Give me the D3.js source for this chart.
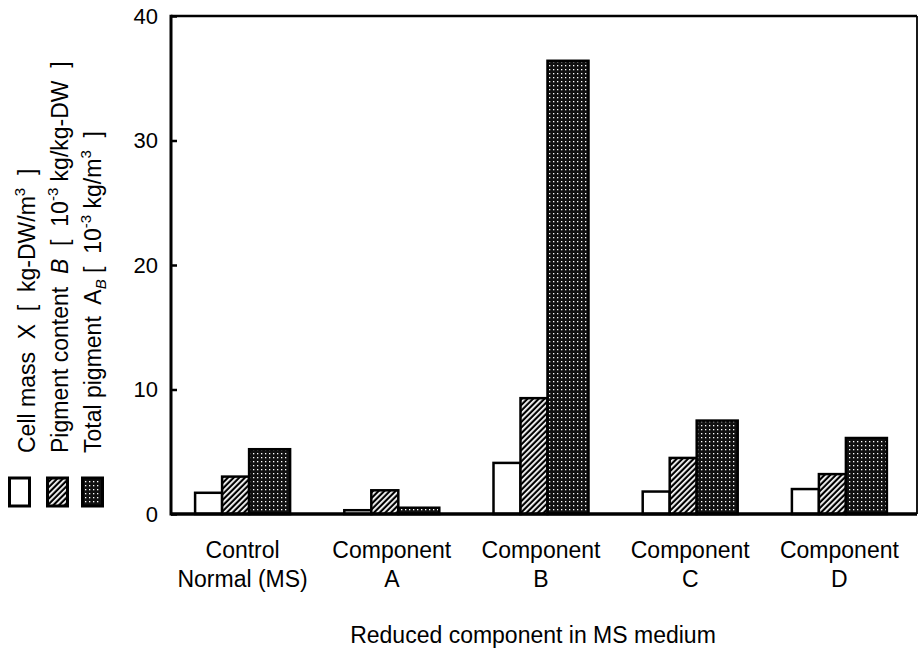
<!DOCTYPE html>
<html>
<head>
<meta charset="utf-8">
<script src="https://cdn.jsdelivr.net/npm/d3@7"></script>
<style>
  body { margin: 0; background: #fff; }
  text { font-family: "Liberation Sans", Arial, sans-serif; fill: #000; }
</style>
</head>
<body>
<div id="main_container"></div>
<script>

var
  WIDTH = 918,
  HEIGHT = 652;

// -- DATA
var categoryLine1 = ["Control", "Component", "Component", "Component", "Component"];
var categoryLine2 = ["Normal (MS)", "A", "B", "C", "D"];
var cellMass = [1.8, 0.4, 4.2, 1.9, 2.1];          // X [kg-DW/m3]
var pigmentContent = [3.1, 2.0, 9.4, 4.6, 3.3];    // B [10^-3 kg/kg-DW]
var totalPigment = [5.3, 0.6, 36.5, 7.6, 6.2];     // A_B [10^-3 kg/m3]
var yTicks = [0, 10, 20, 30, 40];
var xTitle = "Reduced component in MS medium";

var seriesList = [cellMass, pigmentContent, totalPigment];
var seriesFill = ["#fff", "url(#hatch)", "url(#dots)"];
var seriesWidth = [27, 27, 41];

var margin = {left: 171, right: 1, top: 16, bottom: 138};

var svg = d3.select("#main_container")
  .append("svg")
  .attr("width", WIDTH)
  .attr("height", HEIGHT)
  .style("display", "block");

svg.append("rect").attr("width", WIDTH).attr("height", HEIGHT).attr("fill", "#fff");

// -- PATTERNS
var defs = svg.append("defs");

var hatch = defs.append("pattern")
  .attr("id", "hatch")
  .attr("patternUnits", "userSpaceOnUse")
  .attr("width", 4)
  .attr("height", 4)
  .attr("patternTransform", "rotate(45)");
hatch.append("rect").attr("width", 4).attr("height", 4).attr("fill", "#000");
hatch.append("rect").attr("x", 0).attr("width", 1.8).attr("height", 4).attr("fill", "#fff");

var dots = defs.append("pattern")
  .attr("id", "dots")
  .attr("patternUnits", "userSpaceOnUse")
  .attr("width", 4)
  .attr("height", 4);
dots.append("rect").attr("width", 4).attr("height", 4).attr("fill", "#111");
dots.append("rect").attr("x", 1).attr("y", 1).attr("width", 1.3).attr("height", 1.3).attr("fill", "#fff");

// -- SCALES
var x0 = margin.left, x1 = WIDTH - margin.right;
var y0 = HEIGHT - margin.bottom, y1 = margin.top;

var x = d3.scaleBand()
  .domain(d3.range(categoryLine1.length))
  .range([x0 - 3, x1 - 3])
  .padding(0);

var y = d3.scaleLinear()
  .domain([0, 40])
  .range([y0, y1]);

// -- BARS
var groupWidth = d3.sum(seriesWidth);

seriesList.forEach(function(values, s) {
  var offset = d3.sum(seriesWidth.slice(0, s)) - groupWidth / 2;
  svg.append("g")
    .selectAll("rect")
    .data(values)
    .enter()
    .append("rect")
    .attr("x", function(d, i) { return x(i) + x.bandwidth() / 2 + offset; })
    .attr("y", function(d) { return y(d) + 1.2; })
    .attr("width", seriesWidth[s])
    .attr("height", function(d) { return Math.max(0, y(0) - y(d) - 1.2); })
    .attr("fill", seriesFill[s])
    .attr("stroke", "#000")
    .attr("stroke-width", 2.5);
});

// -- AXES / FRAME
var yAxis = d3.axisLeft(y)
  .tickValues(yTicks)
  .tickSizeInner(-6)
  .tickSizeOuter(0)
  .tickPadding(13);

var yAxisG = svg.append("g")
  .attr("transform", "translate(" + x0 + ",0)")
  .call(yAxis);
yAxisG.select(".domain").remove();
yAxisG.selectAll(".tick line").attr("stroke", "#000").attr("stroke-width", 2.5);
yAxisG.selectAll(".tick text")
  .style("font-size", "22px")
  .attr("font-family", null);

svg.append("line").attr("x1", x0).attr("x2", x1).attr("y1", y1).attr("y2", y1)
  .attr("stroke", "#000").attr("stroke-width", 2.5);
svg.append("line").attr("x1", x1).attr("x2", x1).attr("y1", y1).attr("y2", y0)
  .attr("stroke", "#000").attr("stroke-width", 1.8);
svg.append("line").attr("x1", x0).attr("x2", x0).attr("y1", y1 - 1.2).attr("y2", y0 + 1.5)
  .attr("stroke", "#000").attr("stroke-width", 3);
svg.append("line").attr("x1", x0).attr("x2", x1).attr("y1", y0).attr("y2", y0)
  .attr("stroke", "#000").attr("stroke-width", 3.5);

// category labels
var catG = svg.append("g")
  .selectAll("text")
  .data(categoryLine1)
  .enter()
  .append("text")
  .attr("text-anchor", "middle")
  .style("font-size", "23px")
  .attr("transform", function(d, i) { return "translate(" + (x(i) + x.bandwidth() / 2) + ",0)"; });
catG.append("tspan").attr("x", 0).attr("y", 558).text(function(d) { return d; });
catG.append("tspan").attr("x", 0).attr("y", 587).text(function(d, i) { return categoryLine2[i]; });

svg.append("text")
  .attr("x", (x0 + x1) / 2 - 11)
  .attr("y", 643)
  .attr("text-anchor", "middle")
  .style("font-size", "23px")
  .text(xTitle);

// -- LEGEND (rotated, left side)
var legendBoxX = [8, 46, 81];
svg.append("g")
  .selectAll("rect")
  .data(seriesFill)
  .enter()
  .append("rect")
  .attr("x", function(d, i) { return legendBoxX[i] + 1.5; })
  .attr("y", 478)
  .attr("width", 20)
  .attr("height", 28)
  .attr("fill", function(d) { return d; })
  .attr("stroke", "#000")
  .attr("stroke-width", 3);

// each legend line is a list of [text, style] parts
var legendLines = [
  [["Cell mass  ", ""], ["X", ""], ["  [  kg-DW/m", ""], ["3", "sup"], ["  ]", ""]],
  [["Pigment content  ", ""], ["B", "it"], ["  [  10", ""], ["-3", "sup"], [" kg/kg-DW  ]", ""]],
  [["Total pigment  ", ""], ["A", ""], ["B", "sub"], [" [  10", ""], ["-3", "sup"], [" kg/m", ""], ["3", "sup"], ["  ]", ""]]
];
var legendBaseX = [35, 68, 101];

legendLines.forEach(function(parts, k) {
  var t = svg.append("text")
    .attr("transform", "translate(" + legendBaseX[k] + ",453) rotate(-90)")
    .style("font-size", "23px")
    .style("white-space", "pre");
  var shift = 0;
  parts.forEach(function(p) {
    var span = t.append("tspan").text(p[0]);
    var dy = 0;
    if (p[1] == "sup") {
      span.style("font-size", "15px");
      dy = -10;
    } else if (p[1] == "sub") {
      span.style("font-size", "15px").style("font-style", "italic");
      dy = 5;
    } else if (p[1] == "it") {
      span.style("font-style", "italic");
    }
    span.attr("dy", dy - shift);
    shift = dy;
  });
});

</script>
</body>
</html>
